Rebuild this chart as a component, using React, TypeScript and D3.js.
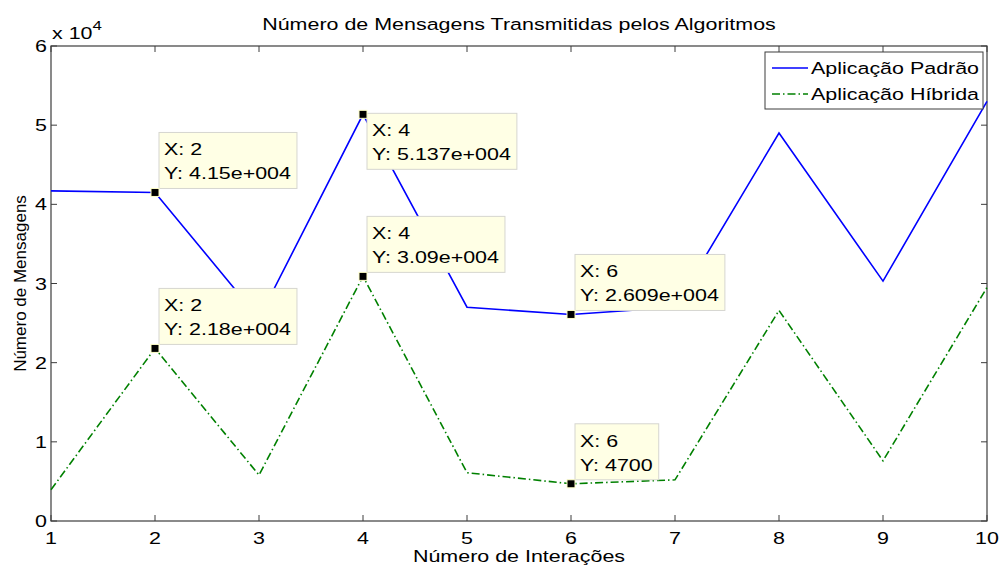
import React, { useEffect, useRef } from 'react';
import * as d3 from 'd3';

const iterations = [1, 2, 3, 4, 5, 6, 7, 8, 9, 10];
const padrao = [41700, 41500, 25600, 51370, 27000, 26090, 27000, 49000, 30300, 53000];
const hibrida = [3950, 21800, 5800, 30900, 6100, 4700, 5200, 26600, 7600, 29500];
const xTicks = [1, 2, 3, 4, 5, 6, 7, 8, 9, 10];
const yTicks = [0, 1, 2, 3, 4, 5, 6];

// data tips: series, x value, label lines, side of point the box sits on
const tips = [
  { series: 'padrao', x: 2, lines: ['X: 2', 'Y: 4.15e+004'], side: 'above' },
  { series: 'padrao', x: 4, lines: ['X: 4', 'Y: 5.137e+004'], side: 'below' },
  { series: 'padrao', x: 6, lines: ['X: 6', 'Y: 2.609e+004'], side: 'above' },
  { series: 'hibrida', x: 2, lines: ['X: 2', 'Y: 2.18e+004'], side: 'above' },
  { series: 'hibrida', x: 4, lines: ['X: 4', 'Y: 3.09e+004'], side: 'above' },
  { series: 'hibrida', x: 6, lines: ['X: 6', 'Y: 4700'], side: 'above' },
];

const App: React.FC = () => {
  const svgRef = useRef<SVGSVGElement>(null);

  useEffect(() => {
    if (!svgRef.current) return;
    const svg = d3.select(svgRef.current);
    svg.selectAll('*').remove();

    const font = 'Arial, "Liberation Sans", sans-serif';
    const fs = 16.5;
    const sx = 1.3; // the original figure is stretched horizontally
    const margin = { left: 51, right: 13, top: 46, bottom: 45 };
    const width = 1000;
    const height = 566;
    const innerW = width - margin.left - margin.right;
    const innerH = height - margin.top - margin.bottom;

    const x = d3.scaleLinear().domain([1, 10]).range([margin.left, margin.left + innerW]);
    const y = d3.scaleLinear().domain([0, 60000]).range([margin.top + innerH, margin.top]);

    // text helper with horizontal stretch
    const label = (parent: any, tx: number, ty: number, str: string, anchor = 'start', size = fs) =>
      parent.append('text')
        .attr('transform', `translate(${tx},${ty}) scale(${sx},1)`)
        .attr('text-anchor', anchor)
        .attr('font-family', font)
        .attr('font-size', size)
        .attr('fill', '#000')
        .text(str);

    svg.append('rect').attr('width', width).attr('height', height).attr('fill', '#fff');

    const axisColor = '#3c3c3c';
    const tickLen = 6;

    // ticks on all four sides (inward)
    xTicks.forEach(t => {
      svg.append('line')
        .attr('x1', x(t)).attr('x2', x(t))
        .attr('y1', y(0)).attr('y2', y(0) - tickLen)
        .attr('stroke', axisColor);
      svg.append('line')
        .attr('x1', x(t)).attr('x2', x(t))
        .attr('y1', y(60000)).attr('y2', y(60000) + tickLen)
        .attr('stroke', axisColor);
      label(svg, x(t), y(0) + 23, String(t), 'middle');
    });
    yTicks.forEach(t => {
      svg.append('line')
        .attr('x1', x(1)).attr('x2', x(1) + tickLen)
        .attr('y1', y(t * 10000)).attr('y2', y(t * 10000))
        .attr('stroke', axisColor);
      svg.append('line')
        .attr('x1', x(10)).attr('x2', x(10) - tickLen)
        .attr('y1', y(t * 10000)).attr('y2', y(t * 10000))
        .attr('stroke', axisColor);
      label(svg, x(1) - 4, y(t * 10000) + 6, String(t), 'end');
    });

    svg.append('rect')
      .attr('x', x(1)).attr('y', y(60000))
      .attr('width', innerW).attr('height', innerH)
      .attr('fill', 'none').attr('stroke', axisColor).attr('stroke-width', 1.2);

    // exponent label
    const expo = label(svg, x(1) + 1, y(60000) - 7, '');
    expo.append('tspan').text('x 10');
    expo.append('tspan').attr('dy', -9).attr('font-size', 13).text('4');

    // title and axis labels
    label(svg, (x(1) + x(10)) / 2, 30, 'Número de Mensagens Transmitidas pelos Algoritmos', 'middle');
    label(svg, (x(1) + x(10)) / 2, 562, 'Número de Interações', 'middle');
    svg.append('text')
      .attr('transform', `translate(26,${(y(0) + y(60000)) / 2}) rotate(-90)`)
      .attr('text-anchor', 'middle')
      .attr('font-family', font).attr('font-size', 17)
      .attr('fill', '#000')
      .text('Número de Mensagens');

    const line = d3.line<number>()
      .x((_, i) => x(iterations[i]))
      .y(d => y(d));

    const blue = '#0000ff';
    const green = '#008000';
    const dash = '8,3,1.5,3';

    svg.append('path')
      .datum(padrao)
      .attr('d', line)
      .attr('fill', 'none')
      .attr('stroke', blue)
      .attr('stroke-width', 1.6);
    svg.append('path')
      .datum(hibrida)
      .attr('d', line)
      .attr('fill', 'none')
      .attr('stroke', green)
      .attr('stroke-width', 1.6)
      .attr('stroke-dasharray', dash);

    // data tips
    tips.forEach(tip => {
      const vals = tip.series === 'padrao' ? padrao : hibrida;
      const v = vals[iterations.indexOf(tip.x)];
      const px = x(tip.x);
      const py = y(v);
      const g = svg.append('g');
      const boxH = 56;
      const bx = px + 4;
      const by = tip.side === 'above' ? py - 4 - boxH : py - 1;
      const rect = g.append('rect');
      const texts = tip.lines.map((l, i) => label(g, bx + 5, by + 23 + i * 24, l));
      const w = Math.max(...texts.map((t: any) => (t.node() as SVGTextElement).getComputedTextLength())) * sx + 11;
      rect
        .attr('x', bx).attr('y', by)
        .attr('width', w).attr('height', boxH)
        .attr('fill', '#ffffe5')
        .attr('stroke', '#d6d6d0')
        .attr('stroke-width', 1);
      g.append('rect')
        .attr('x', px - 4).attr('y', py - 4)
        .attr('width', 8).attr('height', 8)
        .attr('fill', '#000')
        .attr('stroke', '#ffffc8')
        .attr('stroke-width', 1);
    });

    // legend
    const lg = svg.append('g');
    const lx = 765;
    const ly = 52;
    lg.append('rect')
      .attr('x', lx).attr('y', ly)
      .attr('width', 218).attr('height', 57)
      .attr('fill', '#fff')
      .attr('stroke', axisColor).attr('stroke-width', 1);
    const entries = [
      { label: 'Aplicação Padrão', color: blue, dash: null },
      { label: 'Aplicação Híbrida', color: green, dash: dash },
    ];
    entries.forEach((e, i) => {
      const cy = ly + 16 + i * 26;
      lg.append('line')
        .attr('x1', lx + 7).attr('x2', lx + 43)
        .attr('y1', cy).attr('y2', cy)
        .attr('stroke', e.color).attr('stroke-width', 1.6)
        .attr('stroke-dasharray', e.dash);
      label(lg, lx + 46, cy + 6, e.label);
    });
  }, []);

  return <svg ref={svgRef} width={1000} height={566} style={{ display: 'block', position: 'absolute', left: 0, top: 0 }} />;
};

export default App;
